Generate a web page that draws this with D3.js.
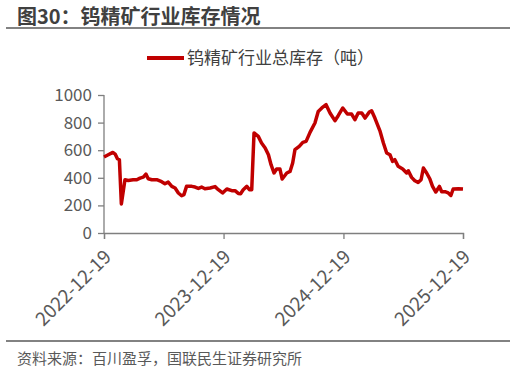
<!DOCTYPE html>
<html>
<head>
<meta charset="utf-8">
<script src="https://cdn.jsdelivr.net/npm/d3@7"></script>
<style>
  body { margin: 0; background: #fff; }
  svg { display: block; font-family: "Noto Sans CJK SC", "Noto Sans", sans-serif; }
</style>
</head>
<body>
<div id="chart"></div>
<script>
// 钨精矿行业总库存（吨）
const dates = [
  '2022-12-19','2023-01-01','2023-01-15','2023-01-22','2023-01-29','2023-02-04','2023-02-10','2023-02-21',
  '2023-03-03','2023-03-18','2023-03-29','2023-04-08','2023-04-18','2023-04-26','2023-05-03','2023-05-14',
  '2023-05-29','2023-06-13','2023-06-23','2023-07-03','2023-07-14','2023-07-24','2023-08-03','2023-08-13',
  '2023-08-20','2023-08-28','2023-09-13','2023-09-23','2023-10-03','2023-10-13','2023-10-23','2023-11-08',
  '2023-11-23','2023-12-03','2023-12-16','2023-12-29','2024-01-13','2024-01-23','2024-02-02','2024-02-09',
  '2024-02-17','2024-02-28','2024-03-07','2024-03-14','2024-03-21','2024-04-03','2024-04-13','2024-04-24',
  '2024-05-04','2024-05-12','2024-05-21','2024-05-29','2024-06-08','2024-06-15','2024-06-29','2024-07-09',
  '2024-07-17','2024-07-24','2024-08-06','2024-08-17','2024-08-27','2024-09-08','2024-09-23','2024-10-03',
  '2024-10-14','2024-10-27','2024-11-08','2024-11-23','2024-12-03','2024-12-17','2024-12-31','2025-01-13',
  '2025-01-23','2025-02-02','2025-02-13','2025-02-23','2025-03-08','2025-03-15','2025-03-25','2025-04-10',
  '2025-04-20','2025-04-30','2025-05-10','2025-05-18','2025-05-25','2025-06-04','2025-06-18','2025-06-30',
  '2025-07-05','2025-07-15','2025-07-25','2025-08-04','2025-08-13','2025-08-20','2025-08-30','2025-09-09',
  '2025-09-17','2025-09-27','2025-10-08','2025-10-15','2025-10-25','2025-11-04','2025-11-12','2025-11-19',
  '2025-12-05','2025-12-19'
];
const stock = [
  551,567,584,572,538,531,210,386,
  381,386,386,398,405,427,393,386,
  386,372,357,369,338,326,290,270,
  278,338,338,333,323,333,321,326,
  336,314,290,319,307,307,287,285,
  314,338,314,314,725,700,652,616,
  567,495,435,464,464,391,435,446,
  507,604,628,657,664,729,797,881,
  906,930,870,814,850,906,862,862,
  821,870,870,833,877,886,833,736,
  652,580,567,519,531,483,464,435,
  451,403,379,367,386,471,435,391,
  338,297,338,299,299,290,272,319,
  321,319
];
const tickDates = ['2022-12-19','2023-12-19','2024-12-19','2025-12-19'];
const yTicks = [0, 200, 400, 600, 800, 1000];

const W = 516, H = 372;
const parse = d3.timeParse('%Y-%m-%d');
const data = dates.map((d, i) => ({ date: parse(d), value: stock[i] }));

const svg = d3.select('#chart').append('svg')
    .attr('width', W)
    .attr('height', H);

// title
svg.append('text')
    .attr('x', 17).attr('y', 24)
    .attr('font-size', 20).attr('font-weight', 'bold')
    .attr('fill', '#404040')
    .text('图30：钨精矿行业库存情况');
svg.append('line')
    .attr('x1', 6).attr('x2', 510).attr('y1', 28).attr('y2', 28)
    .attr('stroke', '#595959').attr('stroke-width', 1.5);

// legend
svg.append('line')
    .attr('x1', 147).attr('x2', 184).attr('y1', 58).attr('y2', 58)
    .attr('stroke', '#c00000').attr('stroke-width', 4);
svg.append('text')
    .attr('x', 187).attr('y', 64)
    .attr('font-size', 17).attr('fill', '#404040')
    .text('钨精矿行业总库存（吨）');

const x = d3.scaleTime()
    .domain([parse(tickDates[0]), parse(tickDates[3])])
    .range([104, 463]);
const y = d3.scaleLinear()
    .domain([0, 1000])
    .range([233, 95]);

const yAxis = svg.append('g')
    .attr('transform', 'translate(104,0)')
    .call(d3.axisLeft(y).tickValues(yTicks).tickSize(6).tickPadding(6)
        .tickFormat(d3.format('d')));
const xAxis = svg.append('g')
    .attr('transform', 'translate(0,233)')
    .call(d3.axisBottom(x).tickValues(tickDates.map(parse)).tickSize(6)
        .tickFormat(d3.timeFormat('%Y-%m-%d')));

[yAxis, xAxis].forEach(g => {
    g.select('.domain').attr('stroke', '#7f7f7f').attr('stroke-width', 1.3);
    g.selectAll('.tick line').attr('stroke', '#7f7f7f').attr('stroke-width', 1.3);
    g.selectAll('.tick text')
        .attr('font-family', '"Noto Sans CJK SC", "Noto Sans", sans-serif')
        .attr('font-size', 17).attr('fill', '#595959');
});
yAxis.select('.domain').attr('d', 'M0,95V233');

xAxis.selectAll('.tick text')
    .attr('text-anchor', 'end')
    .attr('x', 0).attr('y', 0).attr('dy', 0)
    .attr('font-size', 19)
    .attr('transform', 'translate(8,25) rotate(-45)');

// series
svg.append('path')
    .datum(data)
    .attr('fill', 'none')
    .attr('stroke', '#c00000')
    .attr('stroke-width', 3.5)
    .attr('stroke-linejoin', 'round')
    .attr('d', d3.line().x(d => x(d.date)).y(d => y(d.value)));

// footer
svg.append('line')
    .attr('x1', 6).attr('x2', 510).attr('y1', 341).attr('y2', 341)
    .attr('stroke', '#595959').attr('stroke-width', 1.5);
svg.append('text')
    .attr('x', 17).attr('y', 364)
    .attr('font-size', 15).attr('fill', '#595959')
    .text('资料来源：百川盈孚，国联民生证券研究所');
</script>
</body>
</html>
